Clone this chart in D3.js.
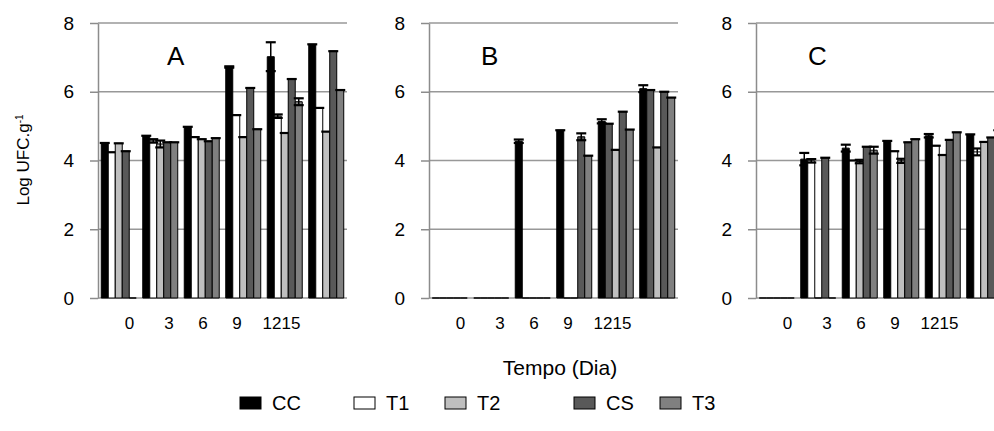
<!DOCTYPE html>
<html>
<head>
<meta charset="utf-8">
<script src="https://cdn.jsdelivr.net/npm/d3@7"></script>
<style>
  body { margin: 0; background: #fff; }
  text { font-family: "Liberation Sans", Arial, sans-serif; fill: #000; }
</style>
</head>
<body>
<svg id="chart" width="994" height="431"></svg>
<script>
// ---- data ----
var days = [0, 3, 6, 9, 12, 15];
var seriesNames = ["CC", "T1", "T2", "CS", "T3"];
var tickLabels = ["0", "3", "6", "9", "1215"];
var tickAt = [0.76, 1.71, 2.53, 3.35, 4.42]; // label positions, in category units
var yTicks = [0, 2, 4, 6, 8];

// panel A (one row per series, one column per day)
var valuesA = [
  [4.51, 4.72, 4.98, 6.72, 7.02, 7.38], // CC
  [4.24, 4.57, 4.68, 5.32, 5.29, 5.53], // T1
  [4.50, 4.48, 4.62, 4.68, 4.80, 4.84], // T2
  [4.27, 4.53, 4.56, 6.11, 6.37, 7.18], // CS
  [0,    4.53, 4.65, 4.91, 5.71, 6.05]  // T3
];
var errorsA = [
  [0, 0, 0, 0.02, 0.42, 0],
  [0, 0.05, 0, 0, 0.05, 0],
  [0, 0.10, 0, 0, 0, 0],
  [0, 0, 0, 0, 0, 0],
  [0, 0, 0, 0, 0.10, 0]
];

// panel B
var valuesB = [
  [0, 0, 4.56, 4.88, 5.14, 6.09],
  [0, 0, 0,    0,    5.07, 6.05],
  [0, 0, 0,    0,    4.31, 4.38],
  [0, 0, 0,    4.69, 5.42, 6.00],
  [0, 0, 0,    4.14, 4.90, 5.83]
];
var errorsB = [
  [0, 0, 0.05, 0, 0.06, 0.10],
  [0, 0, 0, 0, 0, 0],
  [0, 0, 0, 0, 0, 0],
  [0, 0, 0, 0.10, 0, 0],
  [0, 0, 0, 0, 0, 0]
];

// panel C
var valuesC = [
  [0, 4.04, 4.36, 4.57, 4.72, 4.76],
  [0, 3.99, 4.00, 4.27, 4.43, 4.25],
  [0, 0,    3.97, 3.99, 4.16, 4.54],
  [0, 4.08, 4.40, 4.53, 4.60, 4.67],
  [0, 0,    4.30, 4.62, 4.82, 4.88]
];
var errorsC = [
  [0, 0.18, 0.10, 0, 0.05, 0],
  [0, 0.05, 0, 0, 0, 0.10],
  [0, 0, 0.05, 0.06, 0, 0],
  [0, 0, 0, 0, 0, 0],
  [0, 0, 0.10, 0, 0, 0]
];

var fills = ["#000000", "#ffffff", "#bfbfbf", "#595959", "#808080"];
var fillsB = ["#000000", "#595959", "#bfbfbf", "#595959", "#808080"];

// ---- layout ----
var svg = d3.select("#chart");
var plotTop = 23, plotBottom = 298, plotW = 249;

var panels = [
  { name: "A", left: 98,  values: valuesA, errors: errorsA, fills: fills,  letterX: 69 },
  { name: "B", left: 429, values: valuesB, errors: errorsB, fills: fillsB, letterX: 52 },
  { name: "C", left: 756, values: valuesC, errors: errorsC, fills: fills,  letterX: 52 }
];

var y = d3.scaleLinear().domain([0, 8]).range([plotBottom, plotTop]);

panels.forEach(function(p) {
  var g = svg.append("g").attr("transform", "translate(" + p.left + ",0)");

  var x0 = d3.scaleBand().domain(days).range([0, plotW])
    .paddingInner(0.157).paddingOuter(0.0785);
  var x1 = d3.scaleBand().domain(seriesNames).range([0, x0.bandwidth()]);
  var xt = d3.scaleLinear().domain([0, days.length]).range([0, plotW]);

  // gridlines
  g.selectAll(".grid").data(yTicks).enter().append("line")
    .attr("class", "grid")
    .attr("x1", 0).attr("x2", plotW)
    .attr("y1", function(d) { return y(d); })
    .attr("y2", function(d) { return y(d); })
    .attr("stroke", "#989898").attr("stroke-width", 1.5);

  // y axis
  var ya = g.append("g").call(d3.axisLeft(y).tickValues(yTicks)
    .tickSize(8).tickSizeOuter(0).tickPadding(16));
  ya.select(".domain").attr("stroke", "#8c8c8c").attr("stroke-width", 1.5);
  ya.selectAll(".tick line").attr("stroke", "#8c8c8c").attr("stroke-width", 1.5);
  ya.selectAll(".tick text").attr("font-size", 19)
    .attr("font-family", "Liberation Sans, Arial, sans-serif").attr("fill", "#000");

  // bars
  seriesNames.forEach(function(s, si) {
    var bw = x1.bandwidth();
    var gs = g.append("g");
    gs.selectAll("path.bar").data(days).enter().append("path")
      .attr("class", "bar")
      .attr("d", function(d, i) {
        var x = x0(d) + x1(s), top = y(p.values[si][i]);
        return "M" + x + "," + plotBottom + "V" + top + "H" + (x + bw) + "V" + plotBottom + "Z";
      })
      .attr("fill", p.fills[si]).attr("stroke", "#000").attr("stroke-width", 1);

    // error bars
    days.forEach(function(d, i) {
      var v = p.values[si][i], e = p.errors[si][i];
      if (v <= 0) return;
      var cx = x0(d) + x1(s) + bw / 2;
      var capL = x0(d) + x1(s) - 1.5, capR = x0(d) + x1(s) + bw + 1.5;
      gs.append("line").attr("x1", capL).attr("x2", capR)
        .attr("y1", y(v + e)).attr("y2", y(v + e))
        .attr("stroke", "#000").attr("stroke-width", 2.2);
      if (e > 0) {
        gs.append("line").attr("x1", cx).attr("x2", cx)
          .attr("y1", y(v + e)).attr("y2", y(v - e))
          .attr("stroke", "#000").attr("stroke-width", 1.5);
        gs.append("line").attr("x1", capL).attr("x2", capR)
          .attr("y1", y(v - e)).attr("y2", y(v - e))
          .attr("stroke", "#000").attr("stroke-width", 2.2);
      }
    });
  });

  // x tick labels
  g.selectAll(".xlab").data(tickLabels).enter().append("text")
    .attr("class", "xlab")
    .attr("x", function(d, i) { return xt(tickAt[i]); })
    .attr("y", 329)
    .attr("text-anchor", "middle")
    .attr("font-size", 17)
    .text(function(d) { return d; });

  // panel letter
  g.append("text").attr("x", p.letterX).attr("y", 65)
    .attr("font-size", 26).text(p.name);
});

// y axis title
var yt = svg.append("text")
  .attr("transform", "translate(29,160) rotate(-90)")
  .attr("text-anchor", "middle")
  .attr("font-size", 17);
yt.append("tspan").text("Log UFC.g");
yt.append("tspan").attr("font-size", 10).attr("dy", -6).text("-1");

// x axis title
svg.append("text").attr("x", 560).attr("y", 375)
  .attr("text-anchor", "middle").attr("font-size", 21).text("Tempo (Dia)");

// legend
var legendX = [240, 354, 445, 574, 660];
var lg = svg.selectAll(".leg").data(seriesNames).enter().append("g")
  .attr("class", "leg")
  .attr("transform", function(d, i) { return "translate(" + legendX[i] + ",397)"; });
lg.append("rect").attr("width", 21).attr("height", 12)
  .attr("fill", function(d, i) { return fills[i]; })
  .attr("stroke", "#000").attr("stroke-width", 1);
lg.append("text").attr("x", 32).attr("y", 13).attr("font-size", 20)
  .text(function(d) { return d; });
</script>
</body>
</html>
